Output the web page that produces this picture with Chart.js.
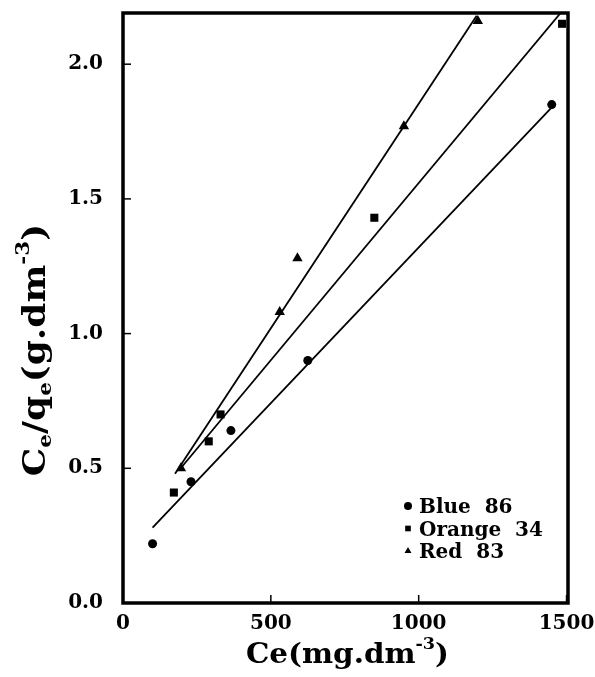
<!DOCTYPE html>
<html>
<head>
<meta charset="utf-8">
<script src="https://cdn.jsdelivr.net/npm/chart.js@4.4.1/dist/chart.umd.min.js"></script>
<style>
  html, body { margin: 0; padding: 0; background: #fff; }
  #wrap { width: 595px; height: 677px; }
</style>
</head>
<body>
<div id="wrap"><canvas id="chart" width="595" height="677"></canvas></div>
<script>
// Datos
var xTicks = [0, 500, 1000, 1500];
var yTicks = [0.0, 0.5, 1.0, 1.5, 2.0];

var blueX = [100, 230, 365, 625, 1450];
var blueY = [0.22, 0.45, 0.64, 0.90, 1.85];
var orangeX = [172, 290, 330, 850, 1485];
var orangeY = [0.41, 0.60, 0.70, 1.43, 2.15];
var redX = [196, 530, 590, 950, 1200];
var redY = [0.50, 1.08, 1.28, 1.77, 2.16];

// Rectas de ajuste (extremos)
var blueFitX = [100, 1450];
var blueFitY = [0.28, 1.84];
var orangeFitX = [195, 1480];
var orangeFitY = [0.50, 2.19];
var redFitX = [176, 1196];
var redFitY = [0.48, 2.18];

var legendNames = ['Blue  86', 'Orange  34', 'Red  83'];
var legendStyles = ['circle', 'rect', 'triangle'];

function toPoints(xs, ys) {
    var pts = [];
    for (var i = 0; i < xs.length; i++) {
        pts.push({ x: xs[i], y: ys[i] });
    }
    return pts;
}

var FONT = '"DejaVu Serif", "Liberation Serif", serif';

function markerSet(label, xs, ys, style, r) {
    return {
        label: label,
        data: toPoints(xs, ys),
        pointStyle: style,
        pointRadius: r,
        backgroundColor: '#000',
        borderColor: '#000',
        borderWidth: 0,
        showLine: false
    };
}

function fitSet(xs, ys) {
    return {
        data: toPoints(xs, ys),
        showLine: true,
        pointRadius: 0,
        borderColor: '#000',
        borderWidth: 1.8,
        fill: false
    };
}

// Texto con subindices / superindices, centrado en el origen
function drawRich(ctx, parts, size) {
    var total = 0;
    var i;
    for (i = 0; i < parts.length; i++) {
        ctx.font = 'bold ' + (parts[i].s ? size * 0.6 : size) + 'px ' + FONT;
        parts[i].w = ctx.measureText(parts[i].t).width;
        total += parts[i].w;
    }
    var x = -total / 2;
    for (i = 0; i < parts.length; i++) {
        var p = parts[i];
        ctx.font = 'bold ' + (p.s ? size * 0.6 : size) + 'px ' + FONT;
        var dy = 0;
        if (p.s === 'sub') dy = size * 0.2;
        if (p.s === 'sup') dy = -size * 0.5;
        ctx.fillText(p.t, x, dy);
        x += p.w;
    }
}

var framePlugin = {
    id: 'frame',
    afterDraw: function(chart) {
        var ctx = chart.ctx;
        var a = chart.chartArea;
        var xs = chart.scales.x;
        var ys = chart.scales.y;
        ctx.save();
        ctx.strokeStyle = '#000';
        ctx.lineWidth = 3.5;
        ctx.strokeRect(a.left, a.top, a.right - a.left, a.bottom - a.top);

        // marcas hacia dentro
        ctx.lineWidth = 1.5;
        xTicks.forEach(function(v) {
            var px = xs.getPixelForValue(v);
            ctx.beginPath();
            ctx.moveTo(px, a.bottom);
            ctx.lineTo(px, a.bottom - 8);
            ctx.stroke();
        });
        yTicks.forEach(function(v) {
            var py = ys.getPixelForValue(v);
            ctx.beginPath();
            ctx.moveTo(a.left, py);
            ctx.lineTo(a.left + 8, py);
            ctx.stroke();
        });

        // titulos de ejes
        ctx.fillStyle = '#000';
        ctx.textBaseline = 'alphabetic';
        ctx.textAlign = 'left';
        ctx.save();
        ctx.translate((a.left + a.right) / 2 + 2, 663);
        ctx.scale(1.05, 1);
        drawRich(ctx, [
            { t: 'Ce(mg.dm' }, { t: '-3', s: 'sup' }, { t: ')' }
        ], 28);
        ctx.restore();

        ctx.save();
        ctx.translate(45, 350);
        ctx.rotate(-Math.PI / 2);
        ctx.scale(1.12, 1);
        drawRich(ctx, [
            { t: 'C' }, { t: 'e', s: 'sub' }, { t: '/q' }, { t: 'e', s: 'sub' },
            { t: '(g.dm' }, { t: '-3', s: 'sup' }, { t: ')' }
        ], 32);
        ctx.restore();

        // leyenda dentro del grafico
        ctx.font = 'bold 20px ' + FONT;
        ctx.textBaseline = 'middle';
        for (var i = 0; i < legendNames.length; i++) {
            var ly = a.bottom - 95 + i * 22.5;
            Chart.helpers.drawPoint(ctx, {
                pointStyle: legendStyles[i],
                radius: 4,
                borderWidth: 0
            }, a.left + 285, ly - 2);
            ctx.fillText(legendNames[i], a.left + 296, ly);
        }
        ctx.restore();
    }
};

var ctx = document.getElementById('chart').getContext('2d');
var chart = new Chart(ctx, {
    type: 'scatter',
    data: {
        datasets: [
            markerSet('Blue 86', blueX, blueY, 'circle', 4.5),
            markerSet('Orange 34', orangeX, orangeY, 'rect', 5.7),
            markerSet('Red 83', redX, redY, 'triangle', 6),
            fitSet(blueFitX, blueFitY),
            fitSet(orangeFitX, orangeFitY),
            fitSet(redFitX, redFitY)
        ]
    },
    options: {
        responsive: false,
        animation: false,
        layout: { padding: { left: 0, top: 13, right: 27, bottom: 0 } },
        plugins: {
            legend: { display: false },
            tooltip: { enabled: false }
        },
        scales: {
            x: {
                type: 'linear',
                min: 0,
                max: 1505,
                grid: { display: false, drawTicks: false },
                border: { display: false },
                afterBuildTicks: function(scale) {
                    scale.ticks = xTicks.map(function(v) { return { value: v }; });
                },
                afterFit: function(scale) {
                    scale.height = 74;
                    scale.paddingLeft = 0;
                    scale.paddingRight = 0;
                },
                ticks: {
                    color: '#000',
                    padding: 9,
                    maxRotation: 0,
                    font: { family: FONT, size: 20, weight: 'bold' },
                    callback: function(v) { return String(v); }
                }
            },
            y: {
                type: 'linear',
                min: 0,
                max: 2.19,
                grid: { display: false, drawTicks: false },
                border: { display: false },
                afterBuildTicks: function(scale) {
                    scale.ticks = yTicks.map(function(v) { return { value: v }; });
                },
                afterFit: function(scale) {
                    scale.width = 123;
                    scale.paddingTop = 0;
                    scale.paddingBottom = 0;
                },
                ticks: {
                    color: '#000',
                    padding: 20,
                    font: { family: FONT, size: 20, weight: 'bold' },
                    callback: function(v) { return Number(v).toFixed(1); }
                }
            }
        }
    },
    plugins: [framePlugin]
});
</script>
</body>
</html>
